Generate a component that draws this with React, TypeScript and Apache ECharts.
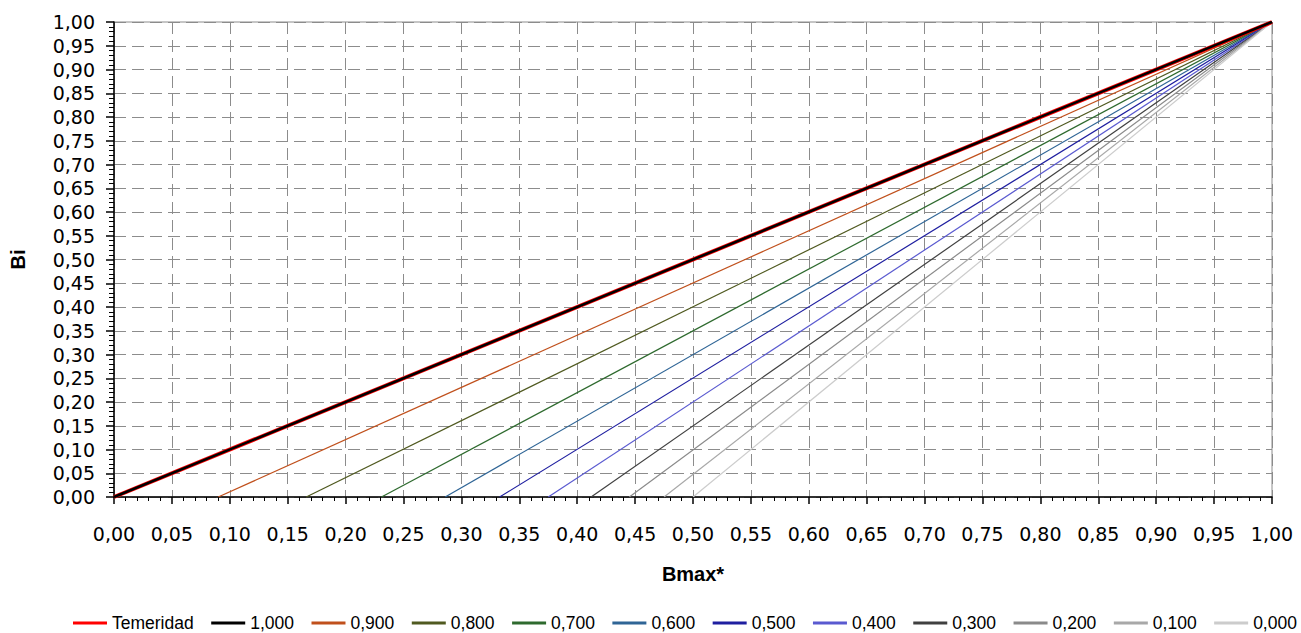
import React, { useEffect, useRef } from "react";
import * as echarts from "echarts";

const seriesNames = ["Temeridad", "1,000", "0,900", "0,800", "0,700", "0,600", "0,500", "0,400", "0,300", "0,200", "0,100", "0,000"];
// x where each line leaves Bi = 0 (all lines end at Bmax* = 1, Bi = 1)
const startX = [0.0, 0.0, 0.09, 0.166, 0.231, 0.286, 0.333, 0.375, 0.412, 0.445, 0.475, 0.5];
const startY = [0, 0, 0, 0, 0, 0, 0, 0, 0, 0, 0, 0];
const endX = [1, 1, 1, 1, 1, 1, 1, 1, 1, 1, 1, 1];
const endY = [1, 1, 1, 1, 1, 1, 1, 1, 1, 1, 1, 1];

const colors = ["#ff0000", "#000000", "#c0501c", "#505a20", "#2e6a2e", "#2f6596", "#1f1fa0", "#5a5ad0", "#404040", "#8a8a8a", "#a8a8a8", "#cccccc"];
const widths = [4, 2.5, 1.2, 1.2, 1.2, 1.2, 1.2, 1.2, 1.2, 1.2, 1.2, 1.2];

const fmt = (v: number) => v.toFixed(2).replace(".", ",");

export default function App() {
  const ref = useRef<HTMLDivElement>(null);
  useEffect(() => {
    if (!ref.current) return;
    const chart = echarts.init(ref.current, null, { renderer: "svg" });
    const gridLine = { show: true, lineStyle: { color: "#8c8c8c", type: [12, 6] as any, width: 1 } };
    const tickFont = "DejaVu Sans, Liberation Sans, sans-serif";
    chart.setOption({
      animation: false,
      backgroundColor: "#ffffff",
      textStyle: { fontFamily: "Liberation Sans, Arial, sans-serif" },
      grid: { left: 108, right: 29, top: 22, bottom: 136, show: true, borderColor: "#8c8c8c", borderWidth: 1 },
      legend: {
        left: 68,
        top: 608,
        width: 1233,
        itemWidth: 34,
        itemHeight: 3,
        itemGap: 17.5,
        icon: "rect",
        textStyle: { fontSize: 17.5, lineHeight: 20, color: "#000", fontFamily: "Liberation Sans, Arial, sans-serif" },
        data: seriesNames,
      },
      xAxis: {
        type: "value",
        min: 0,
        max: 1,
        interval: 0.05,
        name: "Bmax*",
        nameLocation: "middle",
        nameGap: 67,
        nameTextStyle: { fontSize: 20, fontWeight: "bold", color: "#000" },
        axisLine: { show: true, onZero: false, lineStyle: { color: "#000", width: 1.5 } },
        axisTick: { show: true, length: 7, lineStyle: { color: "#000", width: 1.5 } },
        minorTick: { show: true, splitNumber: 5, length: 4, lineStyle: { color: "#000", width: 1 } },
        axisLabel: { formatter: fmt, fontSize: 19, fontFamily: tickFont, color: "#000", margin: 27, showMinLabel: true, showMaxLabel: true },
        splitLine: gridLine,
      },
      yAxis: {
        type: "value",
        min: 0,
        max: 1,
        interval: 0.05,
        name: "Bi",
        nameLocation: "middle",
        nameGap: 86,
        nameTextStyle: { fontSize: 20, fontWeight: "bold", color: "#000" },
        axisLine: { show: true, onZero: false, lineStyle: { color: "#000", width: 1.5 } },
        axisTick: { show: true, length: 8, lineStyle: { color: "#000", width: 1.5 } },
        minorTick: { show: true, splitNumber: 5, length: 5, lineStyle: { color: "#000", width: 1 } },
        axisLabel: { formatter: fmt, fontSize: 19, fontFamily: tickFont, color: "#000", margin: 19, showMinLabel: true, showMaxLabel: true },
        splitLine: gridLine,
      },
      series: seriesNames.map((name, i) => ({
        name,
        type: "line",
        data: [
          [startX[i], startY[i]],
          [endX[i], endY[i]],
        ],
        showSymbol: false,
        symbol: "none",
        color: colors[i],
        lineStyle: { color: colors[i], width: widths[i] },
        z: i === 0 ? 3 : i === 1 ? 4 : 2,
      })),
    });
    return () => chart.dispose();
  }, []);
  return <div ref={ref} style={{ position: "fixed", left: 0, top: 0, width: 1301, height: 633 }} />;
}
